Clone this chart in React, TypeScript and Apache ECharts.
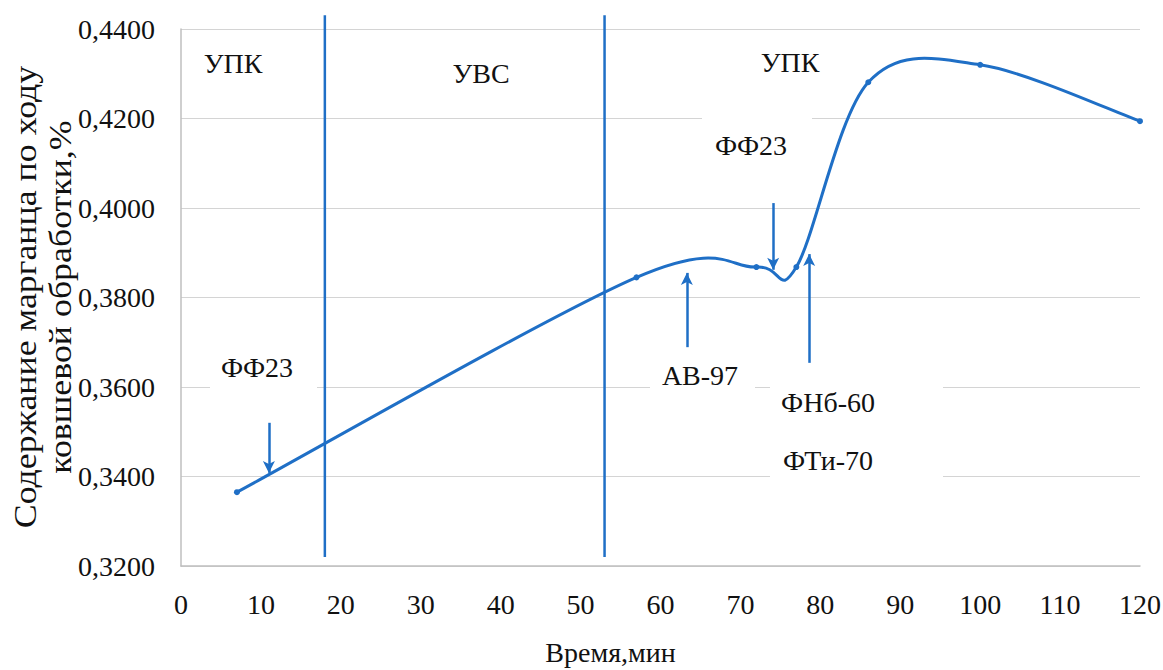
import React, { useEffect, useRef } from "react";
import * as echarts from "echarts";

// Время, мин
const times: number[] = [7, 57, 72, 77, 86, 100, 120];
// Содержание марганца, %
const manganese: number[] = [0.3365, 0.3845, 0.3868, 0.3868, 0.4281, 0.432, 0.4194];

// Границы этапов обработки (мин)
const stageBorders: number[] = [18, 53];
const stageLineRange: [number, number] = [0.322, 0.4431];

// Стрелки ввода ферросплавов: [время, от, до]
const arrowTimes: number[] = [11, 63.3, 74.1, 78.6];
const arrowFrom: number[] = [0.352, 0.3689, 0.4011, 0.3654];
const arrowTo: number[] = [0.3408, 0.3855, 0.3862, 0.3897];

const xTicks = { min: 0, max: 120, interval: 10 };
const yTicks = { min: 0.32, max: 0.44, interval: 0.02 };

const yTitleLines: string[] = ["Содержание марганца по ходу", "ковшевой обработки,%"];

const BLUE = "#1f6fc6";
const FONT = "Liberation Serif, serif";

export default function App() {
  const ref = useRef<HTMLDivElement>(null);

  useEffect(() => {
    if (!ref.current) return;
    const chart = echarts.init(ref.current, undefined, { renderer: "svg" });

    const stageSeries = stageBorders.map((t) => ({
      type: "line",
      data: [
        [t, stageLineRange[0]],
        [t, stageLineRange[1]],
      ],
      clip: false,
      symbol: "none",
      lineStyle: { color: BLUE, width: 2.5 },
      silent: true,
      z: 3,
    }));

    const arrows = arrowTimes.map((t, i) => [
      { coord: [t, arrowFrom[i]] },
      { coord: [t, arrowTo[i]] },
    ]);

    const n = times.length;
    // Smoothed (Catmull-Rom style, as in the spreadsheet chart) curve between the data points
    const renderSegment = (params: any, api: any) => {
      const i = params.dataIndex;
      if (i >= n - 1) return null;
      const pt = (j: number) => {
        const k = Math.max(0, Math.min(n - 1, j));
        return api.coord([times[k], manganese[k]]);
      };
      const p0 = pt(i - 1);
      const p1 = pt(i);
      const p2 = pt(i + 1);
      const p3 = pt(i + 2);
      return {
        type: "bezierCurve",
        shape: {
          x1: p1[0],
          y1: p1[1],
          cpx1: p1[0] + (p2[0] - p0[0]) / 6,
          cpy1: p1[1] + (p2[1] - p0[1]) / 6,
          cpx2: p2[0] - (p3[0] - p1[0]) / 6,
          cpy2: p2[1] - (p3[1] - p1[1]) / 6,
          x2: p2[0],
          y2: p2[1],
        },
        style: { stroke: BLUE, lineWidth: 3, fill: "none" },
        silent: true,
      };
    };

    const box = (x: number, y: number, w: number, h: number) => ({
      type: "rect",
      shape: { x, y, width: w, height: h },
      style: { fill: "#ffffff" },
      z: 50,
      silent: true,
    });
    const label = (text: string, x: number, y: number) => ({
      type: "text",
      x,
      y,
      style: {
        text,
        fontFamily: FONT,
        fontSize: 28,
        fill: "#111",
        align: "center",
        verticalAlign: "middle",
      },
      z: 60,
      silent: true,
    });
    const yTitle = (text: string, x: number) => ({
      type: "text",
      x,
      y: 297,
      rotation: Math.PI / 2,
      scaleX: 1.12,
      style: {
        text,
        fontFamily: FONT,
        fontSize: 32,
        fill: "#111",
        align: "center",
        verticalAlign: "middle",
      },
      z: 60,
      silent: true,
    });

    chart.setOption({
      animation: false,
      backgroundColor: "#ffffff",
      grid: {
        left: 181,
        right: 23,
        top: 29,
        bottom: 104,
        containLabel: false,
        outerBoundsMode: "none",
      },
      xAxis: {
        type: "value",
        min: xTicks.min,
        max: xTicks.max,
        interval: xTicks.interval,
        name: "Время,мин",
        nameLocation: "middle",
        nameGap: 72,
        nameTextStyle: {
          fontFamily: FONT,
          fontSize: 28,
          color: "#111",
          padding: [0, 100, 0, 0],
        },
        axisLine: { show: true, lineStyle: { color: "#bfbfbf", width: 1.5 } },
        axisTick: { show: false },
        splitLine: { show: false },
        axisLabel: { fontFamily: FONT, fontSize: 28, color: "#111", margin: 24 },
      },
      yAxis: {
        type: "value",
        min: yTicks.min,
        max: yTicks.max,
        interval: yTicks.interval,
        axisLine: { show: true, lineStyle: { color: "#bfbfbf", width: 1.5 } },
        axisTick: { show: false },
        splitLine: { show: true, lineStyle: { color: "#d4d4d4", width: 1.2 } },
        axisLabel: {
          fontFamily: FONT,
          fontSize: 28,
          color: "#111",
          margin: 26,
          formatter: (v: number) => v.toFixed(4).replace(".", ","),
        },
      },
      series: [
        {
          type: "custom",
          data: times.map((t, i) => [t, manganese[i]]),
          renderItem: renderSegment,
          encode: { x: 0, y: 1 },
          z: 4,
          silent: true,
        },
        {
          type: "line",
          data: times.map((t, i) => [t, manganese[i]]),
          symbol: "circle",
          symbolSize: 6,
          itemStyle: { color: BLUE },
          lineStyle: { width: 0, opacity: 0 },
          z: 5,
          silent: true,
          markLine: {
            silent: true,
            symbol: ["none", "arrow"],
            symbolSize: [9, 12],
            label: { show: false },
            lineStyle: { color: BLUE, width: 2.5, type: "solid" },
            data: arrows,
          },
        },
        ...stageSeries,
      ],
      graphic: [
        box(210, 345, 107, 48),
        box(650, 355, 105, 40),
        box(702, 110, 110, 60),
        box(770, 375, 173, 110),
        label("УПК", 233, 63),
        label("УВС", 481, 73),
        label("УПК", 790, 62),
        label("ФФ23", 751, 145),
        label("ФФ23", 257, 367),
        label("АВ-97", 700, 375),
        label("ФНб-60", 828, 402),
        label("ФТи-70", 828, 460),
        yTitle(yTitleLines[0], 25),
        yTitle(yTitleLines[1], 60),
      ],
    });

    return () => chart.dispose();
  }, []);

  return (
    <div
      ref={ref}
      style={{ position: "fixed", left: 0, top: 0, width: 1163, height: 670 }}
    />
  );
}
